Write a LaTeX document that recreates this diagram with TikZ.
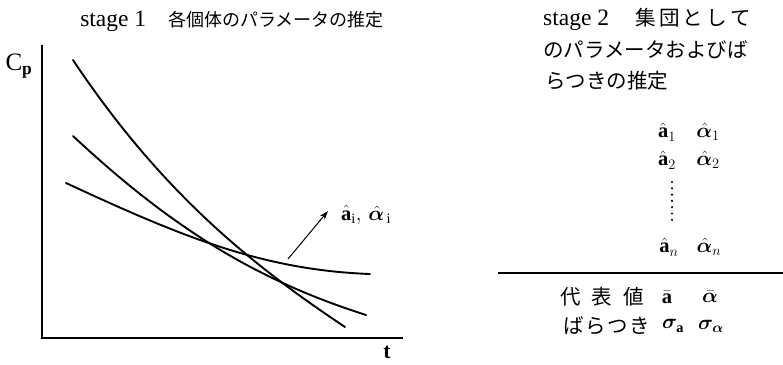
\documentclass[tikz,border=0pt]{standalone}
\usepackage{amsmath,amssymb,bm}
\usepackage{fontspec}
\setmainfont{Liberation Serif}
\newfontfamily\jp{Noto Sans CJK JP}
\usetikzlibrary{positioning,arrows.meta}
\newcommand{\ah}{\hat{\mathbf{a}}}
\newcommand{\alh}{\hat{\bm{\alpha}}}
\tikzset{
axisline/.style={line width=1.5pt},
curveline/.style={line width=1.9pt,line cap=round},
jtext/.style={font=\fontsize{20.5}{24}\selectfont\jp,anchor=west,inner sep=0pt},
ttext/.style={font=\fontsize{23.5}{26}\selectfont,inner sep=0pt},
mtext/.style={font=\fontsize{20.5}{24}\selectfont,inner sep=0pt},
pointer/.style={-{Stealth[length=9pt,width=6pt]},line width=1pt}
}
\begin{document}
\begin{tikzpicture}[x=1pt,y=-1pt]
\useasboundingbox (0,0) rectangle (783,364);
% stage 1
\node[ttext] (title1) at (232,21) {stage 1\hspace{22pt}{\fontsize{18}{22}\selectfont\jp 各個体のパラメータの推定}};
\coordinate (top) at (42,45);
\coordinate (orig) at (42,338);
\coordinate (tend) at (403,338);
\draw[axisline] (top) -- (orig) -- (tend);
\node[ttext,font=\fontsize{25}{28}\selectfont] (cp) at (19,66) {C$_{\mathbf{p}}$};
\node[ttext,font=\fontsize{22}{24}\selectfont\bfseries] (t) at (387,352) {t};
\draw[curveline] (73,60) .. controls (163,195) and (255,267) .. (345,327);
\draw[curveline] (73,136) .. controls (180,236) and (266,283) .. (366,315);
\draw[curveline] (66,183) .. controls (176,234) and (260,270) .. (370,274);
\coordinate (tail) at (288,259);
\coordinate (tip) at (328,211);
\node[mtext,anchor=west] (est) at (341,215) {$\ah_{\mathrm{i}},\,\alh_{\,\mathrm{i}}$};
\draw[pointer] (tail) -- (tip);
% stage 2
\node[jtext] (s2a) at (543,19) {{\normalfont\fontsize{23.5}{26}\selectfont stage 2}\hspace{26pt}集\,団\,と\,し\,て};
\node[jtext] (s2b) at (543,50) {のパラメータおよびば};
\node[jtext] (s2c) at (545,81) {らつきの推定};
\node[mtext] (a1) at (667,132) {$\ah_1$};
\node[mtext] (al1) at (708,132) {$\alh_1$};
\node[mtext] (a2) at (667,160) {$\ah_2$};
\node[mtext] (al2) at (708,160) {$\alh_2$};
\foreach \k in {0,...,6} \fill (672,182+6.3*\k) circle (1.2pt);
\node[mtext] (an) at (669,247) {$\ah_n$};
\node[mtext] (aln) at (709,247) {$\alh_n$};
\draw[axisline] (498,273) -- (783,273);
\node[jtext] (rep) at (560,297) {代\hspace{11pt}表\hspace{11pt}値};
\node[mtext] (abar) at (667,297) {$\bar{\mathbf{a}}$};
\node[mtext] (albar) at (710,297) {$\bar{\bm{\alpha}}$};
\node[jtext] (var) at (563,326) {ば\hspace{1.7pt}ら\hspace{1.7pt}つ\hspace{1.7pt}き};
\node[mtext] (sa) at (673,326) {$\bm{\sigma}_{\mathbf{a}}$};
\node[mtext] (sal) at (711,326) {$\bm{\sigma}_{\bm{\alpha}}$};
\end{tikzpicture}
\end{document}
